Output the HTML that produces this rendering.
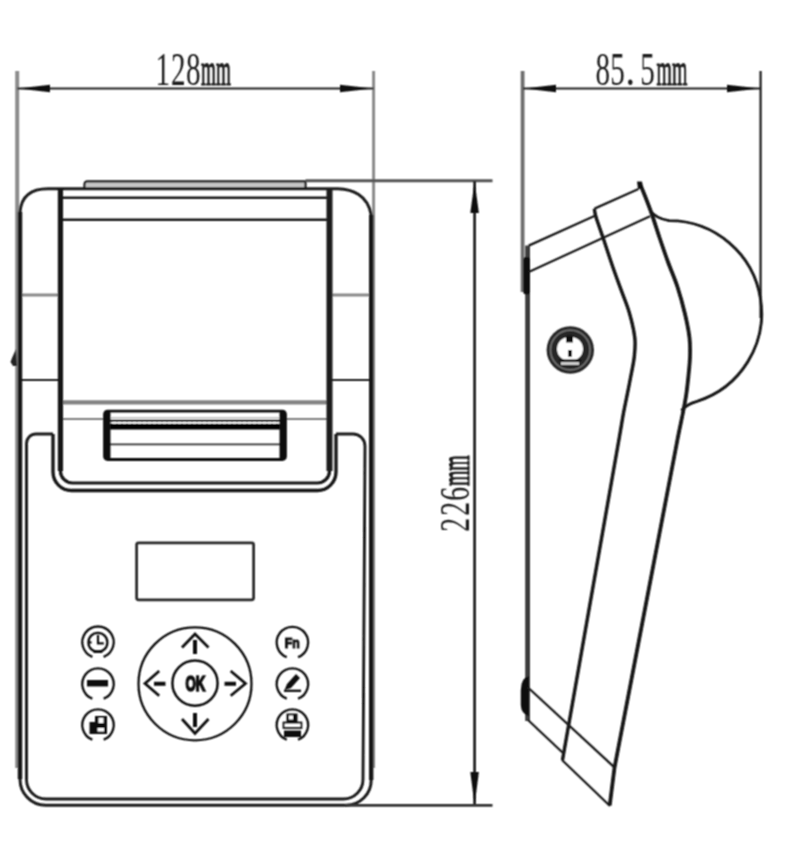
<!DOCTYPE html>
<html><head><meta charset="utf-8"><title>Printer drawing</title>
<style>html,body{margin:0;padding:0;background:#fff;}svg{display:block;}</style>
</head><body>
<svg width="800" height="850" viewBox="0 0 800 850">
<defs><filter id="b" x="0" y="0" width="800" height="850" filterUnits="userSpaceOnUse"><feConvolveMatrix order="3" kernelMatrix="1 2 1 2 4 2 1 2 1" divisor="16" edgeMode="none" preserveAlpha="false"/></filter></defs>
<rect width="800" height="850" fill="#fff"/>
<g filter="url(#b)">
<line x1="17.20" y1="71.00" x2="17.20" y2="768.00" stroke="#8c8c8c" stroke-width="4.00" />
<line x1="373.60" y1="71.00" x2="373.60" y2="768.00" stroke="#8c8c8c" stroke-width="3.00" />
<line x1="17.50" y1="88.50" x2="373.50" y2="88.50" stroke="#222" stroke-width="2.07" />
<path d="M 18.00 88.50 L 50.00 92.30 L 50.00 84.70 Z" fill="#111"/>
<path d="M 373.00 88.50 L 340.00 84.70 L 340.00 92.30 Z" fill="#111"/>
<path d="M 84.3 189 L 84.6 183.5 Q 85 181.3 87.5 181.3 L 305.5 181.3 L 305.5 189 Z" fill="#c6c6c6" stroke="#1a1a1a" stroke-width="2.18"/>
<line x1="305.50" y1="180.70" x2="492.50" y2="180.70" stroke="#555" stroke-width="2.99" />
<path d="M 20 212 C 21.4 195, 32 188.7, 48 188.7 L 338 188.7 C 352 189, 368 195, 371.2 215 L 371.2 780 A 25 25 0 0 1 346.2 805.2 L 45.6 805.2 A 25.6 26 0 0 1 20 779.2 Z" fill="none" stroke="#1a1a1a" stroke-width="2.99"/>
<path d="M 60.45 188 L 60.45 471 A 12 12 0 0 0 72.45 483 L 317.5 483 A 12 12 0 0 0 329.5 471 L 329.6 188" fill="none" stroke="#151515" stroke-width="3.22"/>
<path d="M 53 434 L 53 472 A 18.5 18.5 0 0 0 71.5 490.5 L 317.5 490.5 A 18.5 18.5 0 0 0 336 472 L 336 434" fill="none" stroke="#151515" stroke-width="3.33"/>
<path d="M 53 434 L 36 434 A 9.5 9.5 0 0 0 26.5 443.5 L 26.5 779.5 A 19.5 19.5 0 0 0 46 799 L 343.5 799 A 19.5 19.5 0 0 0 363 779.5 L 365 446 A 12 12 0 0 0 353 434 L 336 434" fill="none" stroke="#1a1a1a" stroke-width="2.88"/>
<line x1="60.60" y1="197.80" x2="330.00" y2="197.80" stroke="#1a1a1a" stroke-width="2.64" />
<line x1="60.60" y1="219.80" x2="330.00" y2="219.80" stroke="#1a1a1a" stroke-width="2.64" />
<line x1="18.80" y1="295.00" x2="60.60" y2="295.00" stroke="#8a8a8a" stroke-width="3.00" />
<line x1="330.00" y1="295.00" x2="371.20" y2="295.00" stroke="#8a8a8a" stroke-width="3.00" />
<line x1="18.80" y1="380.00" x2="60.60" y2="380.00" stroke="#222" stroke-width="1.84" />
<line x1="330.00" y1="380.00" x2="371.20" y2="380.00" stroke="#222" stroke-width="1.84" />
<line x1="60.60" y1="402.40" x2="329.50" y2="402.40" stroke="#838383" stroke-width="4.40" />
<line x1="60.60" y1="419.00" x2="105.00" y2="419.00" stroke="#555" stroke-width="1.72" />
<line x1="285.00" y1="419.00" x2="329.50" y2="419.00" stroke="#555" stroke-width="1.72" />
<line x1="108.00" y1="417.80" x2="282.00" y2="417.80" stroke="#b0b0b0" stroke-width="1.15" />
<line x1="108.00" y1="420.80" x2="282.00" y2="420.80" stroke="#111" stroke-width="2.07" />
<line x1="108.00" y1="426.70" x2="282.00" y2="426.70" stroke="#000" stroke-width="5.80" />
<line x1="108.00" y1="423.00" x2="282.00" y2="423.00" stroke="#fff" stroke-width="0.80" stroke-dasharray="3 2"/>
<line x1="108.00" y1="444.40" x2="282.00" y2="444.40" stroke="#333" stroke-width="1.84" />
<rect x="104.5" y="411.2" width="181" height="48.3" rx="3" fill="none" stroke="#111" stroke-width="2.76"/>
<rect x="104" y="411" width="6.5" height="49" rx="2.5" fill="#111"/>
<rect x="279.5" y="411" width="6.5" height="49" rx="2.5" fill="#111"/>
<line x1="20.00" y1="212.00" x2="20.00" y2="779.00" stroke="#151515" stroke-width="4.40" />
<line x1="371.20" y1="215.00" x2="371.20" y2="780.00" stroke="#151515" stroke-width="4.40" />
<line x1="60.45" y1="188.00" x2="60.45" y2="471.00" stroke="#121212" stroke-width="5.20" />
<line x1="329.50" y1="188.00" x2="329.50" y2="471.00" stroke="#1a1a1a" stroke-width="6.00" />
<path d="M 16 349 L 12 358 L 10.5 362 L 13 366 L 17 366 Z" fill="#222"/>
<rect x="136.6" y="542.8" width="117" height="57" rx="2" fill="none" stroke="#2a2a2a" stroke-width="2.76"/>
<path d="M 92.37 656.86 A 15.70 15.70 0 1 1 103.63 656.86" fill="none" stroke="#111" stroke-width="2.30"/>
<path d="M 92.37 698.66 A 15.70 15.70 0 1 1 103.63 698.66" fill="none" stroke="#111" stroke-width="2.30"/>
<path d="M 92.37 739.66 A 15.70 15.70 0 1 1 103.63 739.66" fill="none" stroke="#111" stroke-width="2.30"/>
<path d="M 286.77 657.16 A 15.70 15.70 0 1 1 298.03 657.16" fill="none" stroke="#111" stroke-width="2.30"/>
<path d="M 286.77 698.66 A 15.70 15.70 0 1 1 298.03 698.66" fill="none" stroke="#111" stroke-width="2.30"/>
<path d="M 286.77 739.66 A 15.70 15.70 0 1 1 298.03 739.66" fill="none" stroke="#111" stroke-width="2.30"/>
<circle cx="97.9" cy="642.4" r="9.5" fill="none" stroke="#111" stroke-width="2.30"/>
<path d="M 98 635 L 98 643.3 L 103.8 643.3" fill="none" stroke="#111" stroke-width="2.18"/>
<line x1="88.60" y1="642.40" x2="91.60" y2="642.40" stroke="#111" stroke-width="2.30" />
<line x1="93.50" y1="651.60" x2="102.30" y2="651.60" stroke="#111" stroke-width="2.76" />
<rect x="87" y="680" width="21" height="6.5" fill="#111"/>
<path d="M 95 716 L 107 716 L 107 734 L 89.5 734 L 89.5 722 L 95 722 Z" fill="#111"/>
<rect x="98.5" y="718" width="5" height="5" fill="#fff"/>
<rect x="97.5" y="728" width="6.5" height="3.5" fill="#fff"/>
<text x="292.2" y="647.8" text-anchor="middle" font-family="Liberation Sans" font-weight="bold" font-size="14" fill="#111" stroke="#111" stroke-width="1.03" textLength="15" lengthAdjust="spacingAndGlyphs">Fn</text>
<path d="M 284.5 690 L 287 684 L 296 674 L 300 678 L 291 688 Z" fill="#111"/>
<line x1="284.00" y1="690.80" x2="301.00" y2="690.80" stroke="#111" stroke-width="2.30" />
<rect x="286.5" y="713.5" width="11" height="8.5" fill="#111"/>
<rect x="289" y="715.5" width="4" height="4" fill="#fff"/>
<rect x="283.5" y="722.5" width="18" height="5.5" fill="none" stroke="#111" stroke-width="1.72"/>
<rect x="284" y="730.5" width="17" height="6.5" fill="#111"/>
<circle cx="195" cy="683.8" r="56.5" fill="none" stroke="#111" stroke-width="2.30"/>
<circle cx="195" cy="683.2" r="22.6" fill="none" stroke="#111" stroke-width="2.53"/>
<text x="195.5" y="691.3" text-anchor="middle" font-family="Liberation Sans" font-weight="bold" font-size="21.5" fill="#111" stroke="#111" stroke-width="1.72" textLength="20" lengthAdjust="spacingAndGlyphs">OK</text>
<path d="M 182 647.5 L 195 634 L 208.5 647.5" fill="none" stroke="#111" stroke-width="2.76"/>
<line x1="195.00" y1="640.00" x2="195.00" y2="654.00" stroke="#111" stroke-width="4.00" />
<path d="M 182 719 L 195 733.5 L 208.5 719" fill="none" stroke="#111" stroke-width="2.76"/>
<line x1="195.00" y1="713.00" x2="195.00" y2="727.00" stroke="#111" stroke-width="4.00" />
<path d="M 159.2 671 L 145 683.5 L 159.2 695.8" fill="none" stroke="#111" stroke-width="2.76"/>
<line x1="154.00" y1="683.80" x2="165.50" y2="683.80" stroke="#111" stroke-width="4.00" />
<path d="M 230.7 671 L 245.5 683.5 L 230.7 695.8" fill="none" stroke="#111" stroke-width="2.76"/>
<line x1="224.50" y1="683.80" x2="236.00" y2="683.80" stroke="#111" stroke-width="4.00" />
<line x1="474.60" y1="181.00" x2="474.60" y2="805.50" stroke="#222" stroke-width="2.76" />
<path d="M 474.60 181.50 L 470.30 213.00 L 478.90 213.00 Z" fill="#111"/>
<path d="M 474.60 805.00 L 478.90 772.00 L 470.30 772.00 Z" fill="#111"/>
<line x1="345.00" y1="805.30" x2="492.50" y2="805.30" stroke="#333" stroke-width="2.76" />
<line x1="522.60" y1="71.00" x2="522.60" y2="292.00" stroke="#6e6e6e" stroke-width="3.80" />
<line x1="760.60" y1="71.00" x2="760.60" y2="318.00" stroke="#222" stroke-width="2.30" />
<line x1="523.00" y1="88.50" x2="760.60" y2="88.50" stroke="#222" stroke-width="2.07" />
<path d="M 524.00 88.50 L 556.00 92.30 L 556.00 84.70 Z" fill="#111"/>
<path d="M 760.00 88.50 L 727.00 84.70 L 727.00 92.30 Z" fill="#111"/>
<line x1="527.60" y1="245.50" x2="527.60" y2="721.00" stroke="#3a3a3a" stroke-width="4.80" />
<rect x="523.2" y="257" width="6.8" height="37.5" rx="3" fill="#111"/>
<path d="M 529 676.3 Q 521 677.5 520.8 690 L 520.8 705 Q 521 714 529 716 Z" fill="#111"/>
<path d="M 528.7 245.6 L 595.5 215.5" fill="none" stroke="#1a1a1a" stroke-width="2.30"/>
<path d="M 594.5 208.6 L 638.5 189" fill="none" stroke="#1a1a1a" stroke-width="2.30"/>
<path d="M 528.7 272 L 650 216.3" fill="none" stroke="#1a1a1a" stroke-width="2.30"/>
<path d="M 594.30 208.60 C 594.58 210.00 594.50 212.02 596.00 217.00 C 597.50 221.98 600.48 230.13 603.30 238.50 C 606.12 246.87 609.92 258.58 612.90 267.20 C 615.88 275.82 618.45 282.57 621.20 290.20 C 623.95 297.83 627.13 305.08 629.40 313.00 C 631.67 320.92 633.98 330.45 634.80 337.70 C 635.62 344.95 634.93 350.23 634.30 356.50 C 633.67 362.77 632.17 369.02 631.00 375.30 C 629.83 381.58 628.55 387.92 627.30 394.20 C 626.05 400.48 624.67 406.73 623.50 413.00 C 622.33 419.27 621.35 425.72 620.30 431.80 C 619.25 437.88 617.72 446.55 617.20 449.50 L 562.5 760" fill="none" stroke="#151515" stroke-width="3.45"/>
<path d="M 640.00 184.00 C 640.83 186.00 643.07 191.08 645.00 196.00 C 646.93 200.92 649.18 206.58 651.60 213.50 C 654.02 220.42 656.77 229.42 659.50 237.50 C 662.23 245.58 665.00 253.75 668.00 262.00 C 671.00 270.25 674.67 278.33 677.50 287.00 C 680.33 295.67 683.00 305.55 685.00 314.00 C 687.00 322.45 688.67 330.62 689.50 337.70 C 690.33 344.78 690.17 350.23 690.00 356.50 C 689.83 362.77 689.12 369.02 688.50 375.30 C 687.88 381.58 687.23 387.92 686.30 394.20 C 685.37 400.48 684.12 406.73 682.90 413.00 C 681.68 419.27 680.22 425.72 679.00 431.80 C 677.78 437.88 676.17 446.55 675.60 449.50 L 614.5 767.7 L 609.7 805.5" fill="none" stroke="#151515" stroke-width="3.79"/>
<path d="M 637 181.5 L 642 181.5 L 643 188 L 638 189 Z" fill="#111"/>
<path d="M 650.5 211 Q 656 218.5 669 220.6 A 92.5 92.5 0 0 1 697 401.3 Q 686 404.5 681.5 410.5" fill="none" stroke="#151515" stroke-width="2.88"/>
<line x1="528.00" y1="687.50" x2="614.70" y2="767.70" stroke="#1a1a1a" stroke-width="2.30" />
<line x1="528.00" y1="720.00" x2="562.50" y2="752.50" stroke="#1a1a1a" stroke-width="2.30" />
<line x1="562.00" y1="760.00" x2="610.00" y2="806.00" stroke="#1a1a1a" stroke-width="2.30" />
<circle cx="570.3" cy="350" r="23.7" fill="#262626"/>
<circle cx="570.3" cy="350" r="19.8" fill="none" stroke="#707070" stroke-width="1.72"/>
<ellipse cx="570" cy="348.9" rx="13" ry="12.2" fill="#fff"/>
<line x1="561.00" y1="363.50" x2="579.00" y2="363.50" stroke="#e0e0e0" stroke-width="2.53" />
<rect x="566" y="335.5" width="7" height="7" fill="#111"/>
<rect x="568.1" y="350" width="3.8" height="6.8" fill="#111"/>
<line x1="559.00" y1="360.40" x2="581.50" y2="360.40" stroke="#111" stroke-width="2.07" />
<text transform="translate(155.44 84.50) scale(0.640 1)" font-family="Liberation Serif" font-size="45.50" fill="#1e1e1e">1</text>
<text transform="translate(170.92 84.50) scale(0.640 1)" font-family="Liberation Serif" font-size="45.50" fill="#1e1e1e">2</text>
<text transform="translate(186.09 84.50) scale(0.640 1)" font-family="Liberation Serif" font-size="45.50" fill="#1e1e1e">8</text>
<text transform="translate(201.10 84.50) scale(0.420 1)" font-family="Liberation Serif" font-size="45.50" fill="#1e1e1e" stroke="#1e1e1e" stroke-width="1.15">m</text><text transform="translate(215.96 84.50) scale(0.420 1)" font-family="Liberation Serif" font-size="45.50" fill="#1e1e1e" stroke="#1e1e1e" stroke-width="1.15">m</text>
<text transform="translate(595.39 84.50) scale(0.640 1)" font-family="Liberation Serif" font-size="45.50" fill="#1e1e1e">8</text>
<text transform="translate(610.31 84.50) scale(0.640 1)" font-family="Liberation Serif" font-size="45.50" fill="#1e1e1e">5</text>
<text transform="translate(625.48 84.50) scale(0.840 1)" font-family="Liberation Serif" font-size="45.50" fill="#1e1e1e">.</text>
<text transform="translate(640.31 84.50) scale(0.640 1)" font-family="Liberation Serif" font-size="45.50" fill="#1e1e1e">5</text>
<text transform="translate(656.59 84.50) scale(0.434 1)" font-family="Liberation Serif" font-size="45.50" fill="#1e1e1e" stroke="#1e1e1e" stroke-width="1.15">m</text><text transform="translate(671.95 84.50) scale(0.434 1)" font-family="Liberation Serif" font-size="45.50" fill="#1e1e1e" stroke="#1e1e1e" stroke-width="1.15">m</text>
<g transform="translate(468.7 531.1) rotate(-90)"><text transform="translate(-0.72 0.00) scale(0.667 1)" font-family="Liberation Serif" font-size="41.50" fill="#1e1e1e">2</text>
<text transform="translate(15.28 0.00) scale(0.667 1)" font-family="Liberation Serif" font-size="41.50" fill="#1e1e1e">2</text>
<text transform="translate(30.31 0.00) scale(0.667 1)" font-family="Liberation Serif" font-size="41.50" fill="#1e1e1e">6</text>
<text transform="translate(45.09 0.00) scale(0.476 1)" font-family="Liberation Serif" font-size="41.50" fill="#1e1e1e" stroke="#1e1e1e" stroke-width="1.15">m</text><text transform="translate(60.45 0.00) scale(0.476 1)" font-family="Liberation Serif" font-size="41.50" fill="#1e1e1e" stroke="#1e1e1e" stroke-width="1.15">m</text></g>
</g>
</svg>
</body></html>
